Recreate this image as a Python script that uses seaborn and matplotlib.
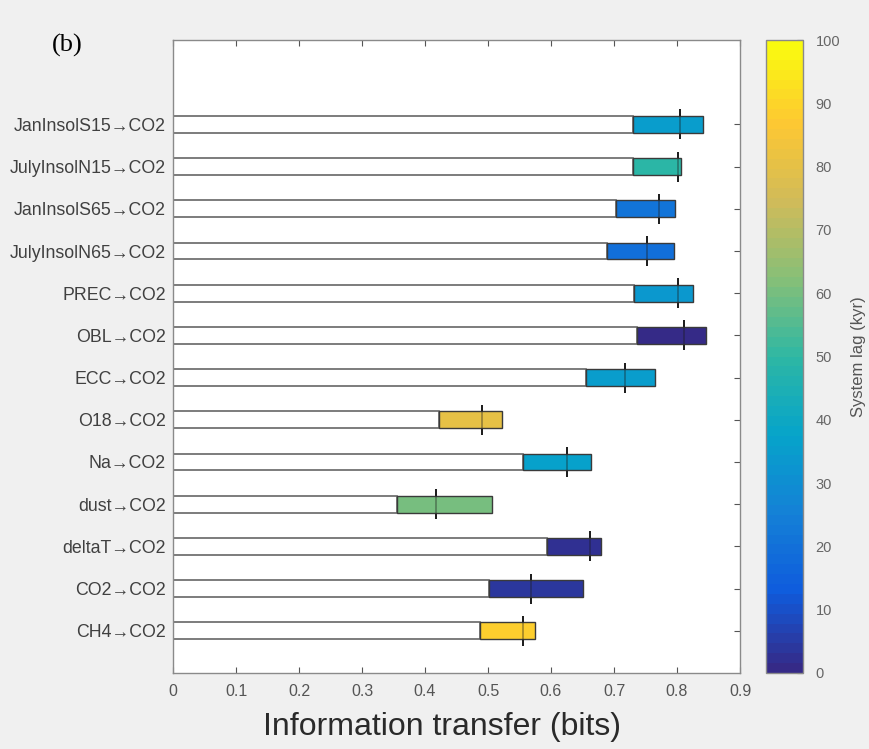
import matplotlib
matplotlib.use("Agg")
import matplotlib.pyplot as plt
import seaborn as sns
import numpy as np
import pandas as pd
from matplotlib.colors import LinearSegmentedColormap, Normalize
from matplotlib.cm import ScalarMappable

# ---- data ----
labels = ["JanInsolS15\u2192CO2", "JulyInsolN15\u2192CO2", "JanInsolS65\u2192CO2",
          "JulyInsolN65\u2192CO2", "PREC\u2192CO2", "OBL\u2192CO2", "ECC\u2192CO2",
          "O18\u2192CO2", "Na\u2192CO2", "dust\u2192CO2", "deltaT\u2192CO2",
          "CO2\u2192CO2", "CH4\u2192CO2"]
lower = [0.730, 0.730, 0.703, 0.689, 0.732, 0.737, 0.655, 0.423, 0.555, 0.355, 0.593, 0.502, 0.488]
upper = [0.841, 0.807, 0.797, 0.795, 0.826, 0.846, 0.765, 0.523, 0.663, 0.507, 0.680, 0.651, 0.575]
median = [0.804, 0.801, 0.771, 0.753, 0.801, 0.811, 0.717, 0.490, 0.625, 0.418, 0.662, 0.568, 0.556]
lag = [35, 49, 21, 20, 34, 1, 35, 81, 37, 60, 3, 4, 88]
xticks = [0, 0.1, 0.2, 0.3, 0.4, 0.5, 0.6, 0.7, 0.8, 0.9]
cticks = list(range(0, 101, 10))

df = pd.DataFrame({"label": labels, "lower": lower, "upper": upper,
                   "median": median, "lag": lag})

parula = LinearSegmentedColormap.from_list("parula", [
    "#352a87", "#0f5cdd", "#1481d6", "#06a4ca", "#2eb7a4",
    "#87bf77", "#d1bb59", "#fec832", "#f9fb0e"], N=64)
norm = Normalize(0, 100)

sns.set_theme(style="white")
plt.rcParams["font.family"] = ["Liberation Sans", "DejaVu Sans"]

W, H = 869, 749
fig = plt.figure(figsize=(W / 100, H / 100), dpi=100, facecolor="#f0f0f0")
ax = fig.add_axes([173 / W, 1 - 673 / H, (740 - 173) / W, (673 - 40) / H])
ax.set_facecolor("white")

pos = np.arange(len(labels))
# median marks: full line behind the bars, faint overlay on top
ax.plot(df["median"], pos, linestyle="none", marker="|", markersize=22,
        markeredgewidth=1.4, color="#1a1a1a", zorder=1)

edge = "#666666"
sns.barplot(data=df, x="lower", y="label", color="white", edgecolor=edge,
            linewidth=1.2, width=0.4, orient="h", ax=ax, saturation=1, zorder=2)
ax.barh(pos, df["upper"] - df["lower"], left=df["lower"], height=0.4,
        color=[parula(norm(v)) for v in lag], edgecolor="#3a3a3a", linewidth=1.0,
        zorder=3)
ax.plot(df["median"], pos, linestyle="none", marker="|", markersize=14,
        markeredgewidth=1.4, color="#1a1a1a", alpha=0.35, zorder=4)

ax.set_xlim(0, 0.9)
ax.set_ylim(13, -2)
ax.set_xticks(xticks)
ax.set_xticklabels([("%g" % t) for t in xticks])
ax.set_xlabel("Information transfer (bits)", fontsize=23, color="#2a2a2a")
ax.xaxis.set_label_coords((442 - 173) / 567, -(727 - 673) / 633, transform=ax.transAxes)
ax.xaxis.label.set_va("center")
ax.set_ylabel("")
ax.tick_params(axis="both", direction="in", length=4, width=0.8, color="#555555",
               top=True, right=True, bottom=True, left=True)
ax.tick_params(axis="y", labelsize=12.8, labelcolor="#404040", pad=5)
ax.tick_params(axis="x", labelsize=11.5, labelcolor="#555555", pad=8)
for s in ax.spines.values():
    s.set_color("#8a8a8a")
    s.set_linewidth(1.0)
    s.set_visible(True)

# colorbar
cax = fig.add_axes([766 / W, 1 - 673 / H, (803 - 766) / W, (673 - 40) / H])
sm = ScalarMappable(norm=norm, cmap=parula)
cb = fig.colorbar(sm, cax=cax, ticks=cticks)
cb.outline.set_edgecolor("#8a8a8a")
cb.outline.set_linewidth(1.0)
cax.tick_params(direction="in", length=4, width=0.8, color="#333333",
                labelsize=10.5, labelcolor="#666666", pad=9)
cb.set_label("System lag (kyr)", fontsize=12, color="#555555", labelpad=8)

fig.text(52 / W, 1 - 45 / H, "(b)", fontsize=19, family="Liberation Serif",
         color="black", ha="left", va="center")

fig.savefig("out.png", dpi=100, facecolor=fig.get_facecolor())
